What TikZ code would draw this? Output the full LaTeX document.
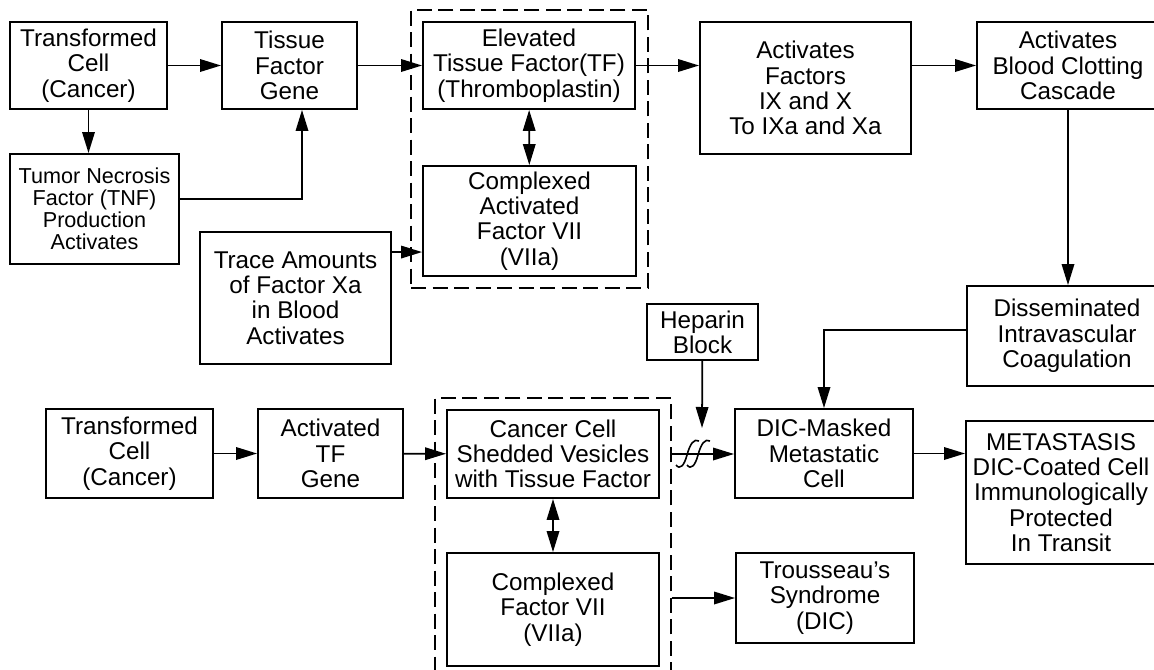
\documentclass[tikz,border=0pt]{standalone}
\usepackage{fontspec}
\setmainfont{Liberation Sans}
\usetikzlibrary{arrows.meta, positioning, calc, fit}

\begin{document}
\begin{tikzpicture}[x=0.02cm, y=-0.02cm,
  box/.style={draw, line width=1.1pt, align=center, inner sep=0pt,
    font=\fontsize{13.8}{14.4}\selectfont},
  grp/.style={draw, line width=0.9pt, dash pattern=on 0.3cm off 0.13cm, inner sep=0.22cm},
  arr/.style={line width=1pt, -{Triangle[length=0.42cm, width=0.25cm]}},
  dbl/.style={line width=1pt, {Triangle[length=0.42cm, width=0.25cm]}-{Triangle[length=0.42cm, width=0.25cm]}}]
  \useasboundingbox (0,0) rectangle (1154,670);

  % upper chain
  \node[box, minimum width=3.14cm, minimum height=1.74cm] (tcA) at (88.5,65.5) {Transformed\\Cell\\(Cancer)};
  \node[box, minimum width=2.70cm, minimum height=1.74cm] (tfgene) at (289.5,65.5) {Tissue\\Factor\\Gene};
  \node[box, minimum width=4.24cm, minimum height=1.74cm] (eltf) at (529,65.5) {Elevated\\Tissue Factor(TF)\\(Thromboplastin)};
  \node[box, minimum width=4.22cm, minimum height=2.64cm] (actfac) at (805.5,88) {Activates\\Factors\\IX and X\\To IXa and Xa};
  \node[box, minimum width=3.64cm, minimum height=1.74cm] (cascade) at (1068,65.5) {Activates\\Blood Clotting\\Cascade};
  \node[box, minimum width=3.38cm, minimum height=2.20cm, font=\fontsize{12.3}{12.5}\selectfont] (tnf) at (94.5,209) {Tumor Necrosis\\Factor (TNF)\\Production\\Activates};
  \node[box, minimum width=4.26cm, minimum height=2.20cm] (cav) at (529.5,221) {Complexed\\Activated\\Factor VII\\(VIIa)};
  \node[box, minimum width=3.82cm, minimum height=2.64cm] (trace) at (295.5,298) {Trace Amounts\\of Factor Xa\\in Blood\\Activates};
  \node[grp, fit=(eltf)(cav)] (grpA) {};

  % right column
  \node[box, minimum width=2.22cm, minimum height=1.12cm] (heparin) at (702.5,332) {Heparin\\Block};
  \node[box, minimum width=4.00cm, minimum height=2.00cm] (dic) at (1067,336) {Disseminated\\Intravascular\\Coagulation};
  \node[box, minimum width=3.56cm, minimum height=1.78cm] (dicm) at (824,453.5) {DIC-Masked\\Metastatic\\Cell};
  \node[box, minimum width=3.80cm, minimum height=2.86cm] (meta) at (1061,492.5) {METASTASIS\\DIC-Coated Cell\\Immunologically\\Protected\\In Transit};

  % lower chain
  \node[box, minimum width=3.34cm, minimum height=1.78cm] (tcB) at (129.5,453.5) {Transformed\\Cell\\(Cancer)};
  \node[box, minimum width=2.90cm, minimum height=1.78cm] (atf) at (330.5,453.5) {Activated\\TF\\Gene};
  \node[box, minimum width=4.24cm, minimum height=1.76cm] (ccs) at (553,454) {Cancer Cell\\Shedded Vesicles\\with Tissue Factor};
  \node[box, minimum width=4.24cm, minimum height=2.26cm] (cf7) at (553,609.5) {Complexed\\Factor VII\\(VIIa)};
  \node[box, minimum width=3.56cm, minimum height=1.80cm] (trou) at (825,598) {Trousseau's\\Syndrome\\(DIC)};
  \node[grp, fit=(ccs)(cf7)] (grpB) {};

  \coordinate (hepEnd) at (702,428);

  \draw[arr] (tcA) -- (tfgene);
  \draw[arr] (tfgene) -- (eltf);
  \draw[arr] (eltf.east) -- (eltf.east -| actfac.west);
  \draw[arr] (cascade -| actfac.east) -- (cascade.west);
  \draw[arr] (tcA.south) -- (tcA.south |- tnf.north);
  \draw[arr] ($(tnf.east)+(0,-10)$) -| ($(tfgene.south)+(12.5,0)$);
  \draw[arr] ($(trace.north east)+(0,21)$) coordinate (t1) -- (t1 -| cav.west);
  \draw[dbl] (eltf) -- (cav);
  \draw[arr] (cascade) -- (cascade |- dic.north);
  \draw[arr] ($(dic.west)+(0,-6)$) -| (dicm.north);
  \draw[arr] (heparin) -- (hepEnd);

  \draw[arr] (tcB) -- (atf);
  \draw[arr] (atf) -- (ccs);
  \draw[dbl] (ccs) -- (cf7);
  \draw[arr] (grpB.east |- ccs) -- (ccs -| dicm.west);
  \draw[arr] (grpB.east |- trou) -- (trou.west);
  \draw[arr] (dicm.east) -- (dicm.east -| meta.west);

  % break mark
  \draw[line width=0.9pt] (676,465) .. controls (680,470) and (684,466) .. (687,455) .. controls (690,444) and (694,438) .. (699,441);
  \draw[line width=0.9pt] (687,465) .. controls (691,470) and (695,466) .. (698,455) .. controls (701,444) and (705,438) .. (710,441);
\end{tikzpicture}
\end{document}
